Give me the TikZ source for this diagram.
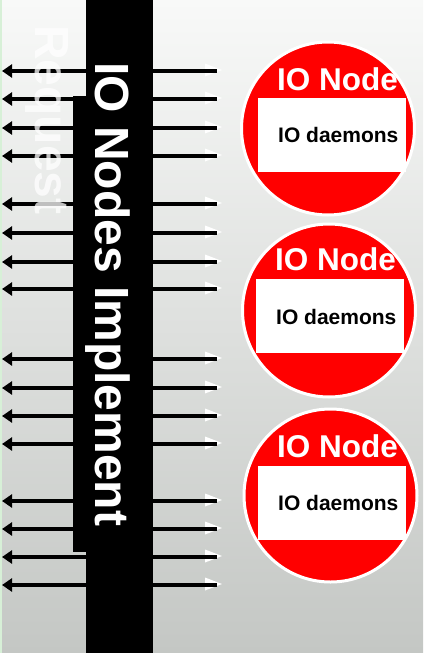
\documentclass[tikz,border=0pt]{standalone}
\usepackage{fontspec}
\setmainfont{Liberation Sans}
\usetikzlibrary{arrows.meta,calc}
\definecolor{bgtop}{RGB}{248,249,248}
\definecolor{bgbot}{RGB}{196,199,196}
\definecolor{edgegreen}{RGB}{215,240,215}
\definecolor{nodered}{RGB}{255,0,0}
\begin{document}
\begin{tikzpicture}[x=1pt,y=-1pt,
  leftarr/.style={line width=3.5pt, -{Triangle[length=10pt,width=13pt]}},
  rightline/.style={line width=3.5pt},
  whitetip/.style={fill=white},
  ionode/.style={circle, fill=nodered, draw=white, line width=3pt, minimum size=173pt, inner sep=0pt},
  daemonbox/.style={fill=white, minimum width=148pt, minimum height=74pt, inner sep=0pt},
  headlbl/.style={anchor=base west, inner sep=0pt, text=white, font=\fontsize{31.5}{32}\selectfont\bfseries},
  daemonlbl/.style={anchor=base west, inner sep=0pt, text=black, font=\fontsize{21}{22}\selectfont\bfseries},
  biglbl/.style={rotate=-90, anchor=base west, inner sep=0pt, font=\fontsize{48}{48}\selectfont\bfseries}]
\useasboundingbox (0,0) rectangle (423,653);
\shade[top color=bgtop, bottom color=bgbot] (0,0) rectangle (423,653);
\fill[edgegreen] (0,0) rectangle (1.5,653);
% arrows
\foreach \y [count=\i] in {71,99,128,156,204,233,262,289,359,388,416,444,501,529,557,585}{
  \coordinate (ls\i) at (90,\y);
  \coordinate (le\i) at (2,\y);
  \coordinate (rs\i) at (150,\y);
  \coordinate (re\i) at (217,\y);
  \coordinate (tip\i) at (222,\y-1);
  \draw[leftarr] (ls\i) -- (le\i);
  \fill[whitetip] ($(tip\i)+(-17,-6.5)$) -- (tip\i) -- ($(tip\i)+(-17,6.5)$) -- cycle;
  \draw[rightline] (rs\i) -- (re\i);
}
% faint label
\node[biglbl, text=white, opacity=0.75] (req) at (35,25) {Request};
% black bars
\fill[black] (86,0) rectangle (153,653);
\fill[black] (73,96) rectangle (86,552);
\node[biglbl, text=white] (title) at (95,62) {IO Nodes Implement};
% IO nodes
\node[ionode] (c1) at (328,128.5) {};
\node[daemonbox] (b1) at (332,135) {};
\node[headlbl] (h1) at (277,90) {IO Node};
\node[daemonlbl] (d1) at (278,142) {IO daemons};
\node[ionode] (c2) at (329,310.5) {};
\node[daemonbox] (b2) at (330,316) {};
\node[headlbl] (h2) at (275,270) {IO Node};
\node[daemonlbl] (d2) at (276,324) {IO daemons};
\node[ionode] (c3) at (330.5,495.5) {};
\node[daemonbox] (b3) at (332,502.5) {};
\node[headlbl] (h3) at (277,457) {IO Node};
\node[daemonlbl] (d3) at (278,510) {IO daemons};
\end{tikzpicture}
\end{document}
